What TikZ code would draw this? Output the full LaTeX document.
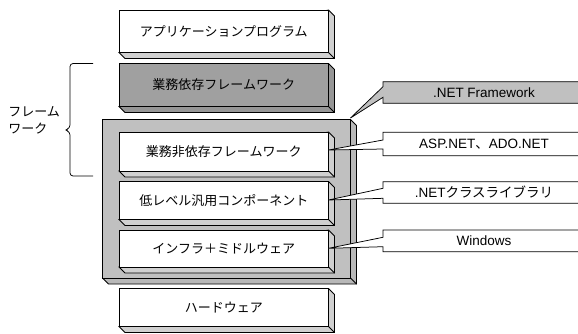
\documentclass[tikz,border=0pt]{standalone}
\usepackage{fontspec}
\setmainfont{Liberation Sans}
\newfontfamily\jp{Noto Sans CJK JP}
\definecolor{darkg}{RGB}{160,160,160}
\definecolor{darkside}{RGB}{150,150,150}
\definecolor{midg}{RGB}{192,192,192}
\definecolor{midside}{RGB}{184,184,184}
\definecolor{sidew}{RGB}{208,208,208}
\newcommand\tdbox[8]{%
  \filldraw[fill=#7] (#4,#3) -- (#4+6,#3+6) -- (#4+6,#5+6) -- (#2+6,#5+6) -- (#2,#5) -- cycle;
  \filldraw[fill=#6] (#2,#3) rectangle (#4,#5);
  \draw (#4,#5) -- (#4+6,#5+6);
  \node[lbl] (#1) at ({(#2+#4)/2},{(#3+#5)/2}) {#8};
}
\newcommand\callout[9]{%
  \filldraw[fill=#8] (#6,#7) -- (383,#4) -- (383,#2) -- (600,#2) -- (600,#3) -- (383,#3) -- (383,#5) -- cycle;
  \node[ctext] (#1) at (484,{(#2+#3)/2}) {#9};
}
\begin{document}
\begin{tikzpicture}[x=1pt,y=-1pt,line width=0.75pt,
  lbl/.style={font=\jp\fontsize{13}{15}\selectfont,inner sep=0pt},
  ctext/.style={font=\fontsize{13.5}{15}\selectfont,inner sep=0pt}]
\useasboundingbox (0,0) rectangle (578,333);
\clip (0,0) rectangle (578,333);
\tdbox{app}{119}{10}{328.5}{52.5}{white}{sidew}{アプリケーションプログラム}
\tdbox{dep}{119}{63.5}{328.5}{106.5}{darkg}{darkside}{業務依存フレームワーク}
\tdbox{net}{102.5}{119.5}{350.5}{278}{midg}{midside}{}
\tdbox{indep}{119}{132}{328.5}{171}{white}{sidew}{業務非依存フレームワーク}
\tdbox{low}{119}{181.5}{328.5}{219.5}{white}{sidew}{低レベル汎用コンポーネント}
\tdbox{infra}{119}{230}{328.5}{267}{white}{sidew}{インフラ＋ミドルウェア}
\tdbox{hw}{119}{288.5}{328.5}{326.5}{white}{sidew}{ハードウェア}
\callout{netfw}{81.7}{103.3}{86.7}{97.3}{350.5}{118}{midg}{.NET Framework}
\callout{asp}{132.3}{155.7}{140}{149}{328.5}{150}{white}{ASP.NET{\jp 、}ADO.NET}
\callout{cls}{181.7}{203.3}{188.3}{198.3}{328.5}{200}{white}{.NET{\jp クラスライブラリ}}
\callout{win}{230}{251.7}{237.3}{246.7}{328.5}{248.3}{white}{Windows}
\draw[rounded corners=3pt] (93,63.5) -- (70,63.5) -- (70,128) -- (65,130) -- (70,132) -- (70,176) -- (93,176);
\node[lbl,anchor=west] (fw1) at (8,112) {フレーム};
\node[lbl,anchor=west] (fw2) at (8,128.5) {ワーク};
\end{tikzpicture}
\end{document}
